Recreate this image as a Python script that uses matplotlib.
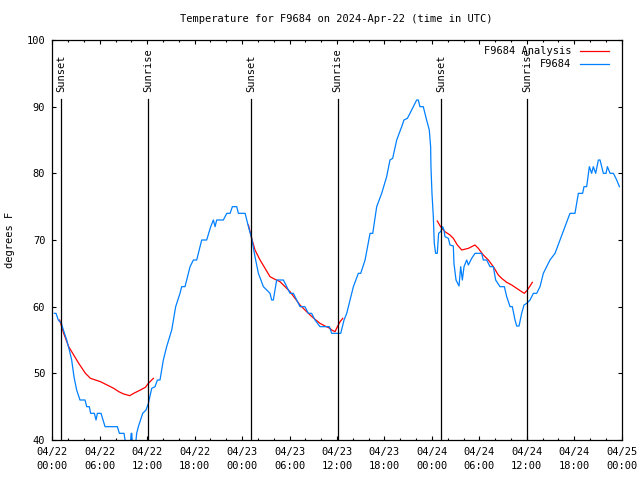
import numpy as np
import matplotlib
matplotlib.use("Agg")
import matplotlib.pyplot as plt

# ---- data (hours since 2024-04-22 00:00 UTC, degrees F) ----
obs_hours = [0.26, 0.47, 0.76, 1.15, 1.4, 1.82, 2.15, 2.45, 2.74, 3.08, 3.5, 4.14, 4.35, 4.68, 4.85,
             5.32, 5.53, 5.7, 6.16, 6.67, 8.23, 8.48, 9.07, 9.2, 9.3, 9.85, 9.97, 10.05, 10.15, 10.5,
             10.67, 10.88, 11.43, 11.85, 12.15, 12.57, 12.99, 13.29, 13.62, 14.04, 14.46, 15.1, 15.6,
             16.15, 16.36, 16.78, 17.42, 17.84, 18.26, 18.89, 19.52, 20.03, 20.37, 20.58, 20.79, 21.63,
             22.06, 22.48, 22.77, 23.32, 23.53, 24.38, 24.8, 25.21, 25.63, 26.06, 26.69, 27.11, 27.53,
             27.74, 27.95, 28.37, 29.22, 29.64, 30.06, 30.48, 30.9, 31.32, 31.95, 32.37, 32.79, 33.22,
             33.85, 35.03, 35.33, 36.47, 36.89, 37.23, 37.65, 38.07, 38.7, 39.0, 39.55, 40.18, 40.52,
             41.02, 41.65, 42.28, 42.7, 43.04, 43.55, 44.18, 44.47, 44.9, 45.23, 45.65, 46.07, 46.28,
             46.49, 46.91, 47.33, 47.67, 47.84, 47.88, 48.01, 48.18, 48.3, 48.47, 48.68, 48.85, 49.1,
             49.36, 49.53, 49.65, 50.08, 50.29, 50.71, 50.79, 51.05, 51.43, 51.64, 51.85, 52.06, 52.4,
             52.61, 53.03, 53.45, 54.29, 54.5, 54.93, 55.35, 55.77, 56.06, 56.61, 57.16, 57.46, 57.88,
             58.17, 58.51, 58.72, 59.02, 59.35, 59.65, 59.99, 60.41, 60.83, 61.25, 61.67, 62.09, 62.51,
             62.93, 63.57, 64.2, 64.83, 65.46, 66.09, 66.52, 67.06, 67.23, 67.57, 67.91, 68.2, 68.41,
             68.71, 69.05, 69.26, 69.68, 70.02, 70.19, 70.53, 70.95, 71.37, 71.71]
obs_temps = [59, 59, 58, 57.5, 56.5, 55, 53.5, 52, 49.5, 47.5, 46, 46, 45, 45, 44,
             44, 43, 44, 44, 42, 42, 41, 41, 40, 39, 39, 41, 41, 39, 39,
             41, 42, 44, 44.5, 45.5, 47.75, 48, 49, 49, 52, 54, 56.5, 60,
             62, 63, 63, 66, 67, 67, 70, 70, 72, 73, 72, 73, 73,
             74, 74, 75, 75, 74, 74, 72, 70.25, 67.5, 65, 63, 62.5, 62,
             61, 61, 64, 64, 63, 62, 62, 61, 60, 60, 59, 59, 58,
             57, 57, 56, 56, 58, 59, 61, 63, 65, 65, 67, 71, 71,
             75, 77, 79.5, 82, 82.25, 85, 87, 88, 88.25, 89, 90, 91, 91,
             90, 90, 88, 86.5, 84, 81, 77, 73.5, 69.5, 68, 68, 71, 71.25,
             72, 71.5, 70.5, 70.25, 69.25, 69.1, 66.5, 64, 63.1, 66, 64, 66, 67,
             66.25, 67.25, 68, 68, 67, 67, 66, 66, 64, 63, 63, 61.5, 60,
             60, 58, 57.1, 57.1, 59, 60.25, 60.5, 61, 62, 62, 63, 65, 66,
             67, 68, 70, 72, 74, 74, 77, 77, 78, 78, 81, 80, 81,
             80, 82, 82, 80, 80, 81, 80, 80, 79, 78]

ana_hours = [0.93, 1.44, 2.07, 2.71, 3.34, 4.19, 4.82, 5.45, 6.08, 6.93, 7.77, 8.4, 9.03, 9.79, 10.3,
             11.14, 11.77, 12.15, 12.78, np.nan,
             24.8, 25.21, 25.63, 26.27, 26.9, 27.53, 28.16, 28.79, 29.43, 30.06, 30.69, 31.32, 31.95,
             32.59, 33.22, 33.85, 34.48, 35.11, 35.33, 35.75, 36.05, 36.39, 36.73, np.nan,
             48.68, 49.1, 49.65, 50.29, 50.71, 51.22, 51.77, 52.61, 53.45, 53.87, 54.5, 55.14, 55.77,
             56.4, 56.82, 57.46, 58.09, 58.72, 59.35, 59.69, 60.07, 60.41, 60.7]
ana_temps = [58, 56, 54, 52.75, 51.5, 50, 49.25, 49, 48.75, 48.25, 47.75, 47.25, 46.9, 46.65, 47,
             47.5, 47.9, 48.5, 49.25, np.nan,
             72.25, 70.25, 68.5, 67, 65.75, 64.5, 64.1, 63.75, 63, 62.25, 61.25, 60.25, 59.5,
             58.75, 58.1, 57.5, 57.1, 56.75, 56.5, 56.25, 57, 57.75, 58.25, np.nan,
             72.85, 72, 71.25, 70.75, 70.25, 69.25, 68.5, 68.75, 69.25, 68.75, 67.75, 67, 66,
             64.75, 64.25, 63.65, 63.25, 62.75, 62.25, 62, 62.5, 63.1, 63.65]

sun_hours = [1.15, 12.13, 25.17, 36.08, 49.2, 60.08]
sun_labels = ["Sunset", "Sunrise", "Sunset", "Sunrise", "Sunset", "Sunrise"]

xtick_hours = [0, 6, 12, 18, 24, 30, 36, 42, 48, 54, 60, 66, 72]
xtick_labels = ["04/22\n00:00", "04/22\n06:00", "04/22\n12:00", "04/22\n18:00",
                "04/23\n00:00", "04/23\n06:00", "04/23\n12:00", "04/23\n18:00",
                "04/24\n00:00", "04/24\n06:00", "04/24\n12:00", "04/24\n18:00",
                "04/25\n00:00"]
ytick_values = [40, 50, 60, 70, 80, 90, 100]

title = "Temperature for F9684 on 2024-Apr-22 (time in UTC)"

# ---- drawing ----
plt.rcParams['font.family'] = ['DejaVu Sans Mono']
FS = 7.5

fig = plt.figure(figsize=(6.4, 4.8), dpi=100)
ax = fig.add_axes([52.3 / 640, 1 - 440 / 480, (621.7 - 52.3) / 640, 400 / 480])

ax.plot(ana_hours, ana_temps, color='#ff0000', lw=0.9, label='F9684 Analysis')
ax.plot(obs_hours, obs_temps, color='#0080ff', lw=0.9, label='F9684')

for h, lab in zip(sun_hours, sun_labels):
    ax.plot([h, h], [40, 91.15], color='black', lw=0.9)
    ax.text(h, 92.2, lab, rotation=90, ha='center', va='bottom', fontsize=FS)

ax.set_xlim(0, 72)
ax.set_ylim(40, 100)
ax.set_xticks(xtick_hours)
ax.set_xticklabels(xtick_labels, fontsize=FS)
for t in ax.get_xticklabels():
    t.set_linespacing(1.45)
ax.set_xticks(np.arange(0, 73, 2), minor=True)
ax.set_yticks(ytick_values)
ax.set_yticklabels([str(v) for v in ytick_values], fontsize=FS)

ax.tick_params(axis='both', which='both', direction='in', top=True, right=True, width=0.8)
ax.tick_params(axis='x', which='major', length=3.2, pad=5)
ax.tick_params(axis='x', which='minor', length=1.6)
ax.tick_params(axis='y', which='major', length=3.0, pad=5)
for sp in ax.spines.values():
    sp.set_linewidth(0.9)

leg = ax.legend(loc='upper right', bbox_to_anchor=(0.985, 0.995), markerfirst=False,
                frameon=False, fontsize=FS, handlelength=2.8, handletextpad=0.8,
                labelspacing=0.3, borderaxespad=0.0)

fig.text(336 / 640, 1 - 19 / 480, title, ha='center', va='center', fontsize=FS)
fig.text(10 / 640, 0.5, 'degrees F', rotation=90, ha='center', va='center', fontsize=FS)

fig.savefig('out.png', dpi=100)
